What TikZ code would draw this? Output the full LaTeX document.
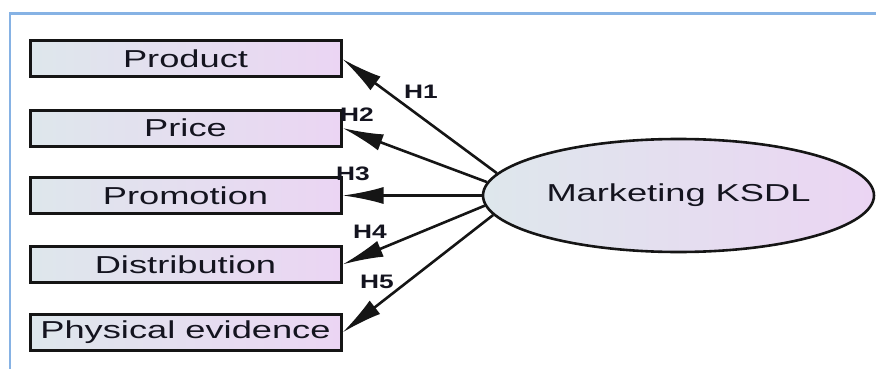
\documentclass[tikz,border=0pt]{standalone}
\usepackage{fontspec}
\setmainfont{Liberation Sans}
\usetikzlibrary{arrows.meta,shapes.geometric}
\definecolor{framec}{HTML}{86B2E4}
\definecolor{linec}{HTML}{151515}
\definecolor{txtc}{HTML}{14141F}
\definecolor{lefc}{HTML}{DEE7EC}
\definecolor{rigc}{HTML}{EBD5F3}
\newcommand{\wtxt}[1]{\scalebox{1.48}[1]{#1}}
\newcommand{\wlab}[1]{\scalebox{1.35}[1]{#1}}
\tikzset{
  var/.style={draw=linec, line width=3pt, left color=lefc, right color=rigc,
    minimum width=311pt, minimum height=36pt, inner sep=0pt, text=txtc,
    font=\fontsize{24.5}{28}\selectfont},
  latent/.style={ellipse, draw=linec, line width=2.6pt, left color=lefc, right color=rigc,
    minimum width=391pt, minimum height=113pt, inner sep=0pt, text=txtc,
    font=\fontsize{24.5}{28}\selectfont},
  arr/.style={draw=linec, line width=2.6pt, -{Latex[length=41pt,width=17pt]}},
  hlab/.style={font=\fontsize{19.5}{22}\bfseries\selectfont, text=txtc, inner sep=0pt},
}
\begin{document}
\begin{tikzpicture}[x=1pt,y=-1pt]
\useasboundingbox (0,0) rectangle (876,369);
\draw[framec, line width=2.2pt] (10,369) -- (10,13.5) -- (876,13.5);
\node[var] (p1) at (185.5,59) {\wtxt{Product}};
\node[var] (p2) at (185.5,128) {\wtxt{Price}};
\node[var] (p3) at (185.5,195.5) {\wtxt{Promotion}};
\node[var] (p4) at (185.5,264.5) {\wtxt{Distribution}};
\node[var] (p5) at (185.5,332.5) {\wtxt{Physical evidence}};
\node[latent] (m) at (678.5,195.5) {\raisebox{-3pt}{\wtxt{Marketing KSDL}}};
\draw[arr] (m.173) -- (p1.east);
\draw[arr] (m.176.3) -- (p2.east);
\draw[arr] (m.180) -- (p3.east);
\draw[arr] (m.183.4) -- (p4.east);
\draw[arr] (m.186) -- (p5.east);
\node[hlab] (h1) at (421,91.5) {\wlab{H1}};
\node[hlab] (h2) at (357,115) {\wlab{H2}};
\node[hlab] (h3) at (353,174) {\wlab{H3}};
\node[hlab] (h4) at (370,231.5) {\wlab{H4}};
\node[hlab] (h5) at (377,281.5) {\wlab{H5}};
\end{tikzpicture}
\end{document}
